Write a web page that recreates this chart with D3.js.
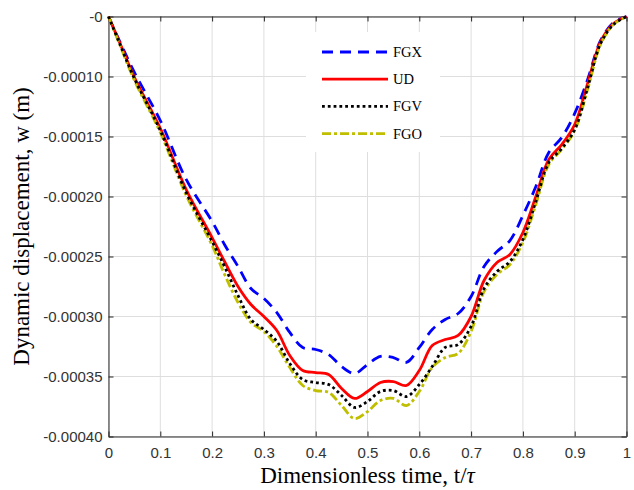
<!DOCTYPE html>
<html>
<head>
<meta charset="utf-8">
<script src="https://cdnjs.cloudflare.com/ajax/libs/d3/7.8.5/d3.min.js"></script>
<style>
body { margin: 0; background: #fff; }
.axis text { font-family: "Liberation Sans", Arial, sans-serif; font-size: 15px; fill: #333; }
.axis path, .axis line { stroke: #262626; }
.grid line { stroke: #dedede; stroke-width: 1; }
.label { font-family: "Liberation Serif", "Times New Roman", serif; font-size: 23px; fill: #000; }
.legend text { font-family: "Liberation Serif", "Times New Roman", serif; font-size: 14.5px; fill: #000; }
</style>
</head>
<body>
<svg class="chart" width="634" height="490"></svg>
<script>
// dimensionless time t/tau
var tau = [0, 0.02, 0.05, 0.1, 0.15, 0.2, 0.225, 0.25, 0.275, 0.3, 0.325, 0.35, 0.375, 0.4,
	0.425, 0.45, 0.475, 0.5, 0.525, 0.55, 0.575, 0.6, 0.625, 0.65, 0.675, 0.7, 0.725, 0.75,
	0.775, 0.8, 0.825, 0.85, 0.875, 0.9, 0.925, 0.95, 0.975, 1];

// dynamic displacement w (m)
var fgx = [0, -0.0000383, -0.0000933, -0.0001367, -0.0001858, -0.0002208, -0.0002408, -0.0002583,
	-0.0002767, -0.000285, -0.0002967, -0.0003133, -0.0003258, -0.0003275, -0.0003317, -0.0003417,
	-0.0003475, -0.00034, -0.0003333, -0.0003342, -0.0003383, -0.0003258, -0.0003108, -0.0003025,
	-0.0002975, -0.0002833, -0.0002583, -0.0002458, -0.0002367, -0.0002158, -0.0001917, -0.0001633,
	-0.0001508, -0.0001308, -0.0001025, -0.00004, -0.00001, 0];
var ud = [0, -0.00004, -0.0001008, -0.0001433, -0.0001942, -0.0002342, -0.000255, -0.000275,
	-0.00029, -0.0003, -0.0003117, -0.0003325, -0.000345, -0.0003467, -0.0003483, -0.00036,
	-0.0003683, -0.0003625, -0.000355, -0.0003542, -0.0003575, -0.000345, -0.0003242, -0.0003192,
	-0.0003158, -0.0003, -0.00027, -0.000255, -0.0002483, -0.00023, -0.0002, -0.0001692,
	-0.0001567, -0.00014, -0.0001058, -0.0000417, -0.0000117, 0];
var fgv = [0, -0.0000417, -0.0001017, -0.000145, -0.0001967, -0.0002375, -0.0002592, -0.0002825,
	-0.0003025, -0.0003108, -0.0003208, -0.0003392, -0.0003525, -0.000355, -0.0003567, -0.0003658,
	-0.0003758, -0.0003708, -0.0003625, -0.0003617, -0.0003667, -0.0003567, -0.0003417, -0.0003258,
	-0.0003233, -0.0003083, -0.0002767, -0.0002625, -0.0002542, -0.0002358, -0.0002042, -0.0001717,
	-0.00016, -0.0001442, -0.0001092, -0.000045, -0.0000133, 0];
var fgo = [0, -0.0000433, -0.0001033, -0.0001467, -0.0001992, -0.0002408, -0.0002658, -0.0002883,
	-0.000305, -0.0003125, -0.000325, -0.0003425, -0.0003575, -0.0003617, -0.0003633, -0.0003742,
	-0.000385, -0.0003792, -0.00037, -0.0003683, -0.0003742, -0.0003625, -0.0003425, -0.0003342,
	-0.0003308, -0.0003125, -0.0002792, -0.000265, -0.0002567, -0.0002383, -0.0002067, -0.0001733,
	-0.0001608, -0.000145, -0.0001108, -0.0000467, -0.0000133, 0];

var seriesNames = ["FGX", "UD", "FGV", "FGO"];

var xTicks = [0, 0.1, 0.2, 0.3, 0.4, 0.5, 0.6, 0.7, 0.8, 0.9, 1];
var xTickLabels = ["0", "0.1", "0.2", "0.3", "0.4", "0.5", "0.6", "0.7", "0.8", "0.9", "1"];
var yTicks = [0, -0.0001, -0.00015, -0.0002, -0.00025, -0.0003, -0.00035, -0.0004];
var yTickLabels = ["-0", "-0.00010", "-0.00015", "-0.00020", "-0.00025", "-0.00030", "-0.00035", "-0.00040"];

var plotLeft = 108.5, plotRight = 626.5, plotTop = 16.5, plotBottom = 436.5;

var x = d3.scaleLinear()
	.domain([0, 1])
	.range([plotLeft, plotRight]);

// tick marks on the original axis are evenly spaced, but -0 sits just one step above -0.00010
var y = d3.scaleLinear()
	.domain([-0.0004, -0.0001, 0])
	.range([plotBottom, plotTop + 60, plotTop]);

var styles = [
	{ color: "#0000ff", dash: "11,7", width: 2.8 },
	{ color: "#ff0000", dash: null, width: 2.8 },
	{ color: "#000000", dash: "2.8,3", width: 2.8 },
	{ color: "#bfbf00", dash: "9,3,3,3", width: 2.8 }
];

var chart = d3.select(".chart");

// grid
var grid = chart.append("g").attr("class", "grid");
grid.selectAll(".gx")
	.data(xTicks)
  .enter().append("line")
	.attr("x1", function(d) { return x(d); })
	.attr("x2", function(d) { return x(d); })
	.attr("y1", plotTop)
	.attr("y2", plotBottom);
grid.selectAll(".gy")
	.data(yTicks)
  .enter().append("line")
	.attr("x1", plotLeft)
	.attr("x2", plotRight)
	.attr("y1", function(d) { return y(d); })
	.attr("y2", function(d) { return y(d); });

// axes, ticks pointing inward like the original box
chart.append("g")
	.attr("class", "axis")
	.attr("transform", "translate(0," + plotBottom + ")")
	.call(d3.axisBottom(x).tickValues(xTicks)
		.tickFormat(function(d, i) { return xTickLabels[i]; })
		.tickSizeInner(-5).tickSizeOuter(0).tickPadding(11));

chart.append("g")
	.attr("class", "axis")
	.attr("transform", "translate(" + plotLeft + ",0)")
	.call(d3.axisLeft(y).tickValues(yTicks)
		.tickFormat(function(d, i) { return yTickLabels[i]; })
		.tickSizeInner(-5).tickSizeOuter(0).tickPadding(6));

chart.append("g")
	.attr("class", "axis")
	.attr("transform", "translate(0," + plotTop + ")")
	.call(d3.axisTop(x).tickValues(xTicks).tickFormat("")
		.tickSizeInner(-5).tickSizeOuter(0));

chart.append("g")
	.attr("class", "axis")
	.attr("transform", "translate(" + plotRight + ",0)")
	.call(d3.axisRight(y).tickValues(yTicks).tickFormat("")
		.tickSizeInner(-5).tickSizeOuter(0));

// curves, FGV drawn last so its dots stay visible over FGO
var line = d3.line()
	.x(function(d, i) { return x(tau[i]); })
	.y(function(d) { return y(d); })
	.curve(d3.curveCatmullRom.alpha(0.5));

var drawOrder = [0, 1, 3, 2];
var curves = [fgx, ud, fgv, fgo];

chart.selectAll(".curve")
	.data(drawOrder)
  .enter().append("path")
	.attr("class", "curve")
	.attr("fill", "none")
	.attr("stroke-width", function(k) { return styles[k].width; })
	.attr("stroke", function(k) { return styles[k].color; })
	.attr("stroke-dasharray", function(k) { return styles[k].dash; })
	.attr("d", function(k) { return line(curves[k]); });

// legend
var legend = chart.append("g").attr("class", "legend");
legend.append("rect")
	.attr("x", 306)
	.attr("y", 32)
	.attr("width", 134)
	.attr("height", 120)
	.attr("fill", "#fff");

var item = legend.selectAll(".item")
	.data(seriesNames)
  .enter().append("g")
	.attr("transform", function(d, i) { return "translate(0," + (52 + i * 27.2) + ")"; });

item.append("line")
	.attr("x1", 322)
	.attr("x2", 388)
	.attr("stroke-width", function(d, i) { return styles[i].width; })
	.attr("stroke", function(d, i) { return styles[i].color; })
	.attr("stroke-dasharray", function(d, i) { return styles[i].dash; });

item.append("text")
	.attr("x", 393)
	.attr("dy", ".35em")
	.text(function(d) { return d; });

// axis titles
var xt = chart.append("text")
	.attr("class", "label")
	.attr("x", (plotLeft + plotRight) / 2)
	.attr("y", 483)
	.attr("text-anchor", "middle")
	.text("Dimensionless time, t/");
xt.append("tspan").attr("font-style", "italic").text("τ");

chart.append("text")
	.attr("class", "label")
	.attr("transform", "translate(29," + ((plotTop + plotBottom) / 2) + ") rotate(-90)")
	.attr("text-anchor", "middle")
	.text("Dynamic displacement, w (m)");
</script>
</body>
</html>
